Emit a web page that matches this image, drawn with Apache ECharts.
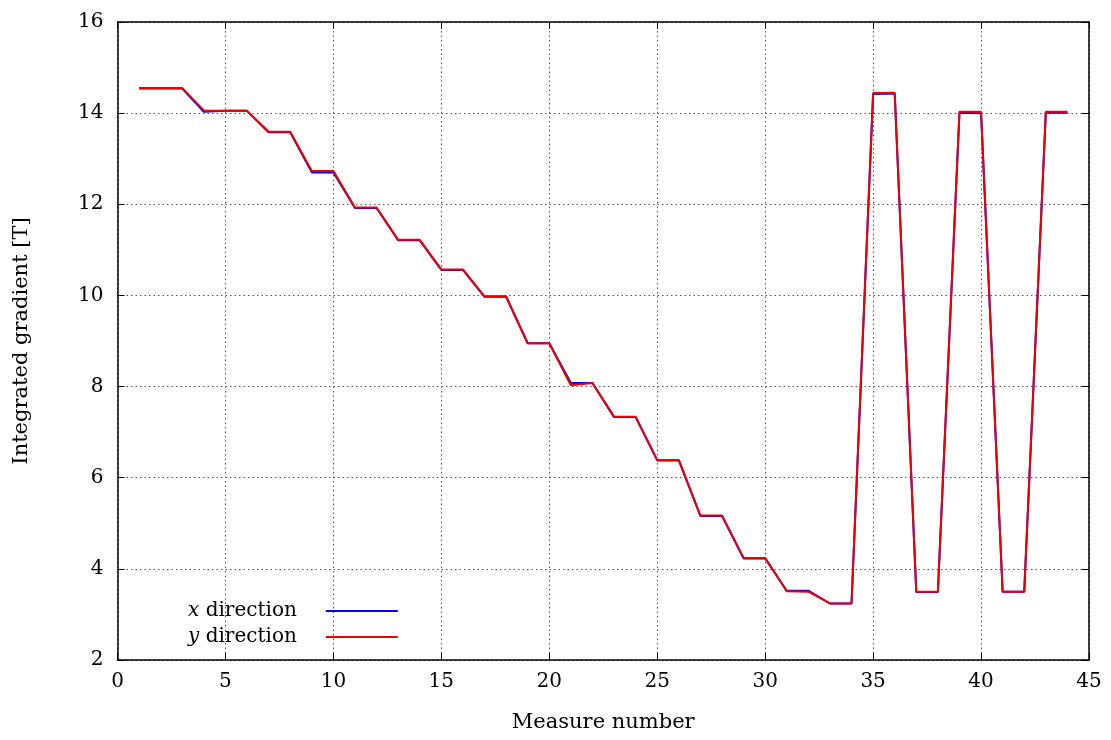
<!DOCTYPE html>
<html><head><meta charset="utf-8">
<script src="https://cdn.jsdelivr.net/npm/echarts@6/dist/echarts.min.js"></script>
<style>html,body{margin:0;padding:0;background:#fff}#c{width:1111px;height:740px}</style>
</head><body><div id="c"></div>
<script>
const measures = [1,2,3,4,5,6,7,8,9,10,11,12,13,14,15,16,17,18,19,20,21,22,23,24,25,26,27,28,29,30,31,32,33,34,35,36,37,38,39,40,41,42,43,44];
const xDirection = [14.54,14.54,14.54,14.03,14.05,14.05,13.58,13.58,12.70,12.70,11.92,11.92,11.21,11.21,10.56,10.56,9.97,9.97,8.95,8.95,8.08,8.08,7.33,7.33,6.38,6.38,5.16,5.16,4.23,4.23,3.52,3.52,3.24,3.24,14.42,14.43,3.49,3.49,14.01,14.00,3.50,3.50,14.01,14.01];
const yDirection = [14.55,14.55,14.55,14.06,14.05,14.05,13.59,13.59,12.73,12.73,11.93,11.93,11.22,11.22,10.57,10.57,9.98,9.98,8.95,8.95,8.03,8.08,7.34,7.34,6.39,6.39,5.17,5.17,4.24,4.24,3.51,3.50,3.24,3.24,14.44,14.45,3.50,3.50,14.03,14.03,3.50,3.50,14.03,14.03];
const seriesNames = ['x direction','y direction'];
const xTicks = {min:0, max:45, interval:5};
const yTicks = {min:2, max:16, interval:2};

const font = '"DejaVu Serif", "Liberation Serif", serif';
const fs = 20;
const chart = echarts.init(document.getElementById('c'), null, {renderer:'canvas'});
const axisCommon = {
  axisLine:{show:true, onZero:false, lineStyle:{color:'#000', width:1.5}},
  axisTick:{show:true, inside:true, length:7, lineStyle:{color:'#000', width:1}},
  splitLine:{show:false}
};
chart.setOption({
  animation:false,
  backgroundColor:'#fff',
  textStyle:{fontFamily:font},
  grid:{left:117.5, right:22, top:22, bottom:80, containLabel:false, outerBoundsMode:'none'},
  legend:{
    orient:'vertical', left:183, top:596, align:'right',
    itemWidth:72, itemHeight:10, itemGap:6,
    icon:'path://M0,4 L72,4 L72,6 L0,6 Z',
    data:seriesNames,
    formatter: n => '{i|' + n.charAt(0) + '} {n|' + n.slice(2) + '}',
    textStyle:{fontFamily:font, fontSize:fs, color:'#000',
      rich:{i:{fontStyle:'italic', fontSize:fs, fontFamily:font, color:'#000'}, n:{fontSize:fs, fontFamily:font, color:'#000', padding:[0,24,0,0]}}},
  },
  xAxis:[
    Object.assign({type:'value', position:'bottom', min:xTicks.min, max:xTicks.max, interval:xTicks.interval,
      name:'Measure number', nameLocation:'middle', nameGap:52,
      nameTextStyle:{fontFamily:font, fontSize:21, color:'#000'},
      axisLabel:{fontFamily:font, fontSize:fs, color:'#000', margin:12}}, axisCommon,
      {splitLine:{show:true, lineStyle:{color:'#555', type:[1.5,3], width:1}}}),
    Object.assign({type:'value', position:'top', min:xTicks.min, max:xTicks.max, interval:xTicks.interval,
      axisLabel:{show:false}}, axisCommon)
  ],
  yAxis:[
    Object.assign({type:'value', position:'left', min:yTicks.min, max:yTicks.max, interval:yTicks.interval,
      name:'Integrated gradient [T]', nameLocation:'middle', nameGap:85,
      nameTextStyle:{fontFamily:font, fontSize:21, color:'#000'},
      axisLabel:{fontFamily:font, fontSize:fs, color:'#000', margin:14}}, axisCommon,
      {splitLine:{show:true, lineStyle:{color:'#555', type:[1.5,3], width:1}}}),
    Object.assign({type:'value', position:'right', min:yTicks.min, max:yTicks.max, interval:yTicks.interval,
      axisLabel:{show:false}}, axisCommon)
  ],
  series:[
    {name:seriesNames[0], type:'line', xAxisIndex:0, yAxisIndex:0, showSymbol:false, symbol:'none',
      color:'#0000ee', lineStyle:{color:'#0000ee', width:2},
      data: measures.map((m,i)=>[m, xDirection[i]])},
    {name:seriesNames[1], type:'line', xAxisIndex:0, yAxisIndex:0, showSymbol:false, symbol:'none',
      color:'#ee0000', lineStyle:{color:'#ee0000', width:2},
      data: measures.map((m,i)=>[m, yDirection[i]])}
  ]
});
</script></body></html>
